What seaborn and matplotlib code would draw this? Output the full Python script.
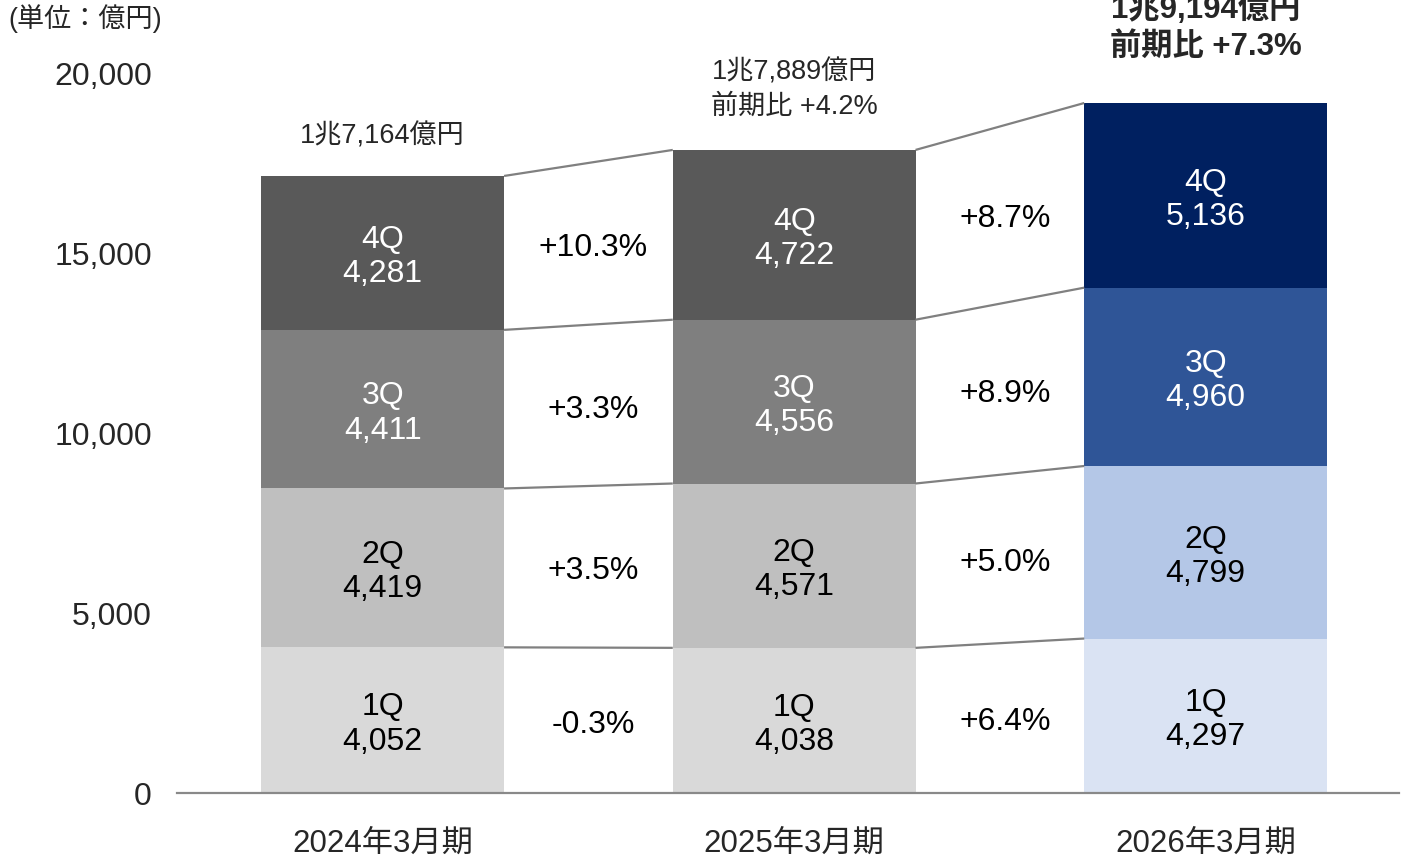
import numpy as np
import pandas as pd
import seaborn as sns
import matplotlib.pyplot as plt

# data
years = ['2024年3月期', '2025年3月期', '2026年3月期']
quarters = ['1Q', '2Q', '3Q', '4Q']
q1 = [4052, 4038, 4297]
q2 = [4419, 4571, 4799]
q3 = [4411, 4556, 4960]
q4 = [4281, 4722, 5136]
growth_q1 = ['-0.3%', '+6.4%']
growth_q2 = ['+3.5%', '+5.0%']
growth_q3 = ['+3.3%', '+8.9%']
growth_q4 = ['+10.3%', '+8.7%']
total_amount = ['1兆7,164億円', '1兆7,889億円', '1兆9,194億円']
total_yoy = [None, '前期比 +4.2%', '前期比 +7.3%']

# colours per quarter, one per year
colors = {
    '1Q': ['#D9D9D9', '#D9D9D9', '#DAE3F3'],
    '2Q': ['#BFBFBF', '#BFBFBF', '#B4C7E7'],
    '3Q': ['#7F7F7F', '#7F7F7F', '#2F5597'],
    '4Q': ['#595959', '#595959', '#002060'],
}
text_colors = {'1Q': 'black', '2Q': 'black', '3Q': 'white', '4Q': 'white'}

sns.set_theme(style='white')
plt.rcParams['font.family'] = ['Liberation Sans', 'Noto Sans CJK JP', 'DejaVu Sans']

vals = np.array([q1, q2, q3, q4])
cum = vals.cumsum(axis=0)
df = pd.DataFrame({'year': years})
for i, q in enumerate(quarters):
    df[q + '_cum'] = cum[i]

fig = plt.figure(figsize=(14.01, 8.59), dpi=100)
ax = fig.add_axes([0.1263, 0.0768, 0.8723, 0.8371])

# stacked bars: draw the tallest (cumulative) first, then smaller ones on top
bw = 0.59
for i in range(3, -1, -1):
    q = quarters[i]
    sns.barplot(data=df, x='year', y=q + '_cum', hue='year', palette=colors[q],
                width=bw, saturation=1, legend=False, ax=ax, linewidth=0)

nudge = 120  # visual centring of text (data units)

# labels inside bars
for i, q in enumerate(quarters):
    for j in range(3):
        mid = cum[i][j] - vals[i][j] / 2
        ax.text(j, mid - nudge, f'{q}\n{vals[i][j]:,}', ha='center', va='center',
                fontsize=23, color=text_colors[q], linespacing=1.18)

# connector lines and growth labels
growth = [growth_q1, growth_q2, growth_q3, growth_q4]
for i in range(4):
    for j in range(2):
        ax.plot([j + bw / 2, j + 1 - bw / 2], [cum[i][j], cum[i][j + 1]],
                color='#808080', lw=1.6, solid_capstyle='butt')
        mid = ((cum[i][j] - vals[i][j] / 2) + (cum[i][j + 1] - vals[i][j + 1] / 2)) / 2
        ax.text(j + 0.512, mid - nudge, growth[i][j], ha='center', va='center',
                fontsize=23, color='black')

# totals above bars
tops = cum[-1]
ax.text(0, tops[0] + 1224 - nudge, total_amount[0], ha='center', va='center', fontsize=19.5)
ax.text(1, tops[1] + 2280 - nudge, total_amount[1], ha='center', va='center', fontsize=19.5)
ax.text(1, tops[1] + 1334 - nudge, total_yoy[1], ha='center', va='center', fontsize=19.5)
ax.text(2, tops[2] + 2727 - nudge, total_amount[2], ha='center', va='center', fontsize=22.5,
        fontweight='bold')
ax.text(2, tops[2] + 1670 - nudge, total_yoy[2], ha='center', va='center', fontsize=22.5,
        fontweight='bold')

ax.set_ylim(0, 20000)
ax.set_xlim(-0.5, 2.47)
ax.set_yticks([0, 5000, 10000, 15000, 20000])
ax.set_yticklabels([f'{v:,}' for v in [0, 5000, 10000, 15000, 20000]], fontsize=23)
ax.tick_params(axis='y', length=0, pad=18)
ax.tick_params(axis='x', length=0, pad=26, labelsize=22.5)
ax.set_xlabel('')
ax.set_ylabel('')
for s in ['top', 'right', 'left']:
    ax.spines[s].set_visible(False)
ax.spines['bottom'].set_color('#898989')
ax.spines['bottom'].set_linewidth(1.6)

fig.text(0.006, 0.978, '(単位：億円)', ha='left', va='center', fontsize=19.5)

fig.savefig('out.png', dpi=100)
